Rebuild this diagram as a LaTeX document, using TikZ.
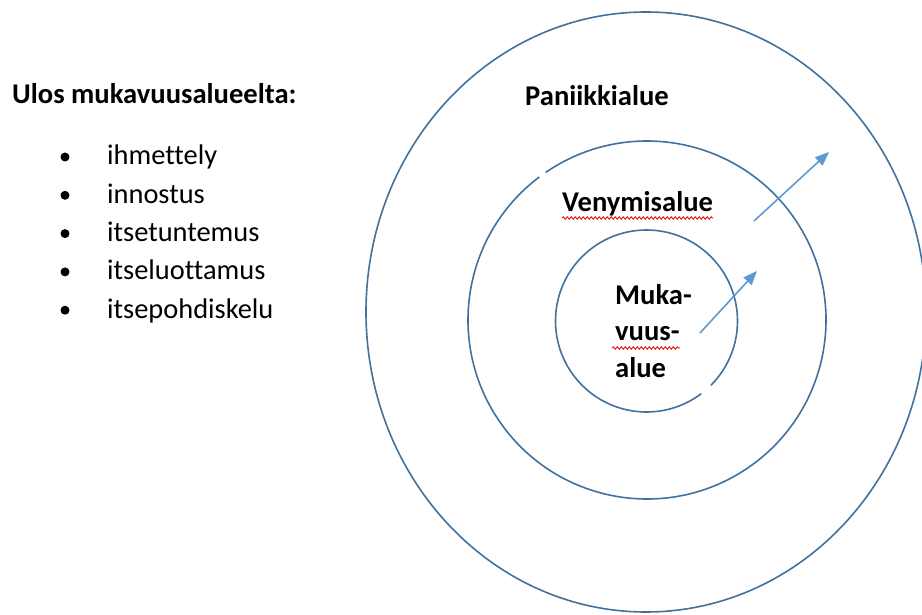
\documentclass[tikz,border=0pt]{standalone}
\usepackage{fontspec}
\setmainfont{Carlito}[Ligatures=NoCommon]
\usepackage{xcolor}
\usetikzlibrary{arrows.meta,decorations.pathmorphing}
\definecolor{ringBlue}{HTML}{41719C}
\definecolor{arrowBlue}{HTML}{5B9BD5}
\definecolor{spellRed}{HTML}{E02020}

\begin{document}
\begin{tikzpicture}[
    x=1pt, y=1pt,
    font=\fontsize{28.4}{34}\selectfont,
    ring/.style={
        draw=ringBlue,
        line width=1.6pt
    },
    zonelabel/.style={
        anchor=base west,
        inner sep=0pt,
        font=\fontsize{28.6}{34}\selectfont\bfseries
    },
    listitem/.style={
        anchor=base west,
        inner sep=0pt
    },
    bulletdot/.style={
        circle,
        fill=black,
        inner sep=0pt,
        minimum size=9pt
    },
    growarrow/.style={
        -{Triangle[length=14pt,width=11pt]},
        line width=1.6pt,
        draw=arrowBlue
    },
    squiggle/.style={
        draw=spellRed,
        line width=1pt,
        decorate,
        decoration={snake,segment length=4pt,amplitude=1.2pt}
    }
]
\useasboundingbox (0,0) rectangle (922,614);
\clip (0,0) rectangle (922,614);

% -------------------- Left: list -------------------------
\node[zonelabel] (title) at (12,510) {Ulos mukavuusalueelta:};

\node[bulletdot] (b1) at (65,457) {};
\node[listitem] (i1) at (107,449) {ihmettely};
\node[bulletdot] (b2) at (65,418.7) {};
\node[listitem] (i2) at (107,410.7) {innostus};
\node[bulletdot] (b3) at (65,380.4) {};
\node[listitem] (i3) at (107,372.4) {itsetuntemus};
\node[bulletdot] (b4) at (65,342.1) {};
\node[listitem] (i4) at (107,334.1) {itseluottamus};
\node[bulletdot] (b5) at (65,303.8) {};
\node[listitem] (i5) at (107,295.8) {itsepohdiskelu};

% -------------------- Zones -----------------------------
\coordinate (ctr) at (647,294);
\coordinate (octr) at (646,302);

\draw[ring] (octr) ellipse[x radius=280, y radius=300];
\draw[ring] (ctr) ++(127:179) arc[start angle=127, end angle=484.5, radius=179];
\draw[ring] ([xshift=-0.5pt,yshift=-1pt]ctr) ++(-45:91) arc[start angle=-45, end angle=307, radius=91];

\node[zonelabel] (panic) at (525,508) {Paniikkialue};
\node[zonelabel] (stretch) at (562,402) {Venymisalue};
\node[zonelabel] (comf1) at (615,309) {Muka-};
\node[zonelabel] (comf2) at (615,273) {vuus-};
\node[zonelabel] (comf3) at (615,236) {alue};

% spell check marks
\draw[squiggle] ([yshift=-6pt]stretch.base west) -- ([yshift=-6pt]stretch.base east);
\draw[squiggle] ([xshift=-3pt,yshift=-7pt]comf2.base west) -- ([yshift=-7pt]comf2.base east);

% -------------------- Arrows ----------------------------
\coordinate (a1) at (700,281);
\coordinate (a1t) at (757,343);
\coordinate (a2) at (754,393);
\coordinate (a2t) at (829,462);
\draw[growarrow] (a1) -- (a1t);
\draw[growarrow] (a2) -- (a2t);

\end{tikzpicture}
\end{document}
